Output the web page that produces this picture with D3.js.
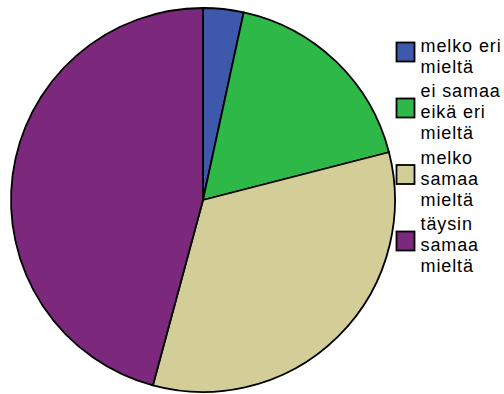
<!DOCTYPE html>
<html>
<head>
<meta charset="utf-8">
<script src="https://cdn.jsdelivr.net/npm/d3@7"></script>
<style>
  html, body { margin: 0; padding: 0; background: #fff; }
  svg { display: block; }
</style>
</head>
<body>
<svg id="chart" width="504" height="394"></svg>
<script>
// Response categories (Finnish Likert scale) and their shares in percent
const categories = ["melko eri mieltä", "ei samaa eikä eri mieltä", "melko samaa mieltä", "täysin samaa mieltä"];
const values = [3.4, 17.6, 33.2, 45.8];
const legendLines = [
  ["melko eri", "mieltä"],
  ["ei samaa", "eikä eri", "mieltä"],
  ["melko", "samaa", "mieltä"],
  ["täysin", "samaa", "mieltä"]
];
const colors = ["#3E58AC", "#2EB848", "#D3CE97", "#7C287D"];

const svg = d3.select("#chart");
const cx = 203, cy = 200, radius = 192;

const color = d3.scaleOrdinal().domain(categories).range(colors);

const pie = d3.pie().sort(null).value(d => d.value);
const arc = d3.arc().innerRadius(0).outerRadius(radius);

const data = categories.map((c, i) => ({ category: c, value: values[i] }));

const g = svg.append("g").attr("transform", `translate(${cx},${cy})`);
g.selectAll("path.slice")
  .data(pie(data))
  .join("path")
  .attr("class", "slice")
  .attr("d", arc)
  .attr("fill", d => color(d.data.category))
  .attr("stroke", "#000")
  .attr("stroke-width", 1.8)
  .attr("stroke-linejoin", "round");

// Legend: swatch beside a wrapped multi-line label
const lineH = 21, groupGap = 24.5, fontSize = 18;
const legend = svg.append("g").attr("class", "legend");
let baseline = 51.5;
legendLines.forEach((lines, i) => {
  const first = baseline;
  const last = first + (lines.length - 1) * lineH;
  const mid = (first + last) / 2 - 10;
  const item = legend.append("g");
  item.append("rect")
    .attr("x", 396.5).attr("y", mid - 9.5)
    .attr("width", 18).attr("height", 19)
    .attr("fill", color(categories[i]))
    .attr("stroke", "#000").attr("stroke-width", 1.8);
  const text = item.append("text")
    .attr("font-family", "'Liberation Sans', Arial, sans-serif")
    .attr("font-size", fontSize)
    .attr("letter-spacing", 0.9)
    .attr("fill", "#000");
  lines.forEach((ln, j) => {
    text.append("tspan").attr("x", 420.5).attr("y", first + j * lineH).text(ln);
  });
  baseline = last + groupGap;
});
</script>
</body>
</html>
